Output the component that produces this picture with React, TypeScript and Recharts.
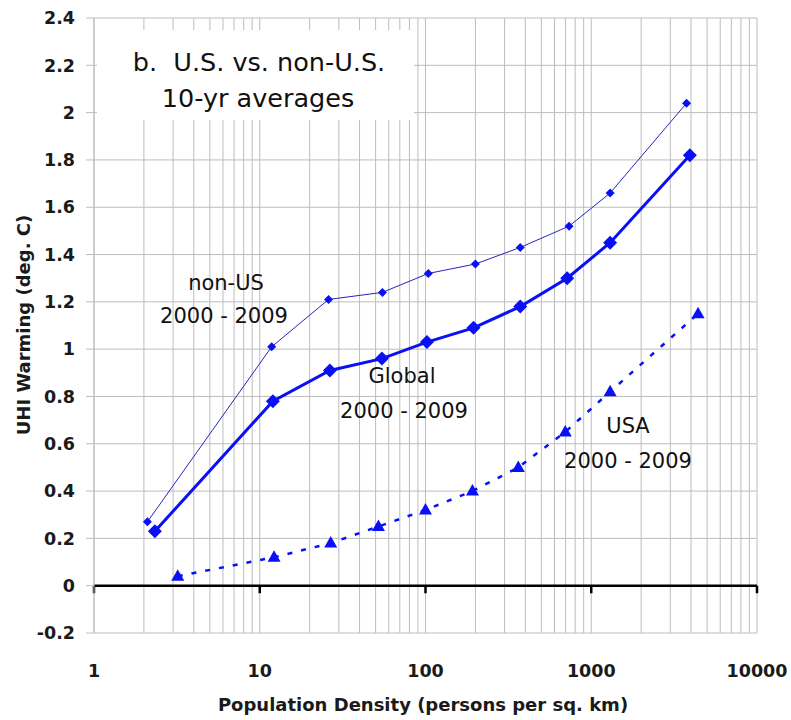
import React from 'react';
import { LineChart, Line, XAxis, YAxis, CartesianGrid, ReferenceLine } from 'recharts';

// population density (persons per sq. km), log axis
const densityTicks = [1, 10, 100, 1000, 10000];
const densityGrid = [
  1, 2, 3, 4, 5, 6, 7, 8, 9,
  10, 20, 30, 40, 50, 60, 70, 80, 90,
  100, 200, 300, 400, 500, 600, 700, 800, 900,
  1000, 2000, 3000, 4000, 5000, 6000, 7000, 8000, 9000,
  10000,
];
const warmingTicks = [-0.2, 0, 0.2, 0.4, 0.6, 0.8, 1, 1.2, 1.4, 1.6, 1.8, 2, 2.2, 2.4];

const nonUsDensity = [2.1, 11.8, 26, 55, 104, 200, 373, 735, 1300, 3760];
const nonUsWarming = [0.27, 1.01, 1.21, 1.24, 1.32, 1.36, 1.43, 1.52, 1.66, 2.04];

const globalDensity = [2.33, 12, 26.5, 54.6, 102, 195, 373, 716, 1300, 3935];
const globalWarming = [0.23, 0.78, 0.91, 0.96, 1.03, 1.09, 1.18, 1.3, 1.45, 1.82];

const usaDensity = [3.2, 12.2, 26.8, 52, 100, 192, 363, 697, 1300, 4410];
const usaWarming = [0.04, 0.12, 0.18, 0.25, 0.32, 0.4, 0.5, 0.65, 0.82, 1.15];

const toPoints = (xs: number[], ys: number[]) => xs.map((x, i) => ({ x, y: ys[i] }));

const nonUsData = toPoints(nonUsDensity, nonUsWarming);
const globalData = toPoints(globalDensity, globalWarming);
const usaData = toPoints(usaDensity, usaWarming);

const FONT = "'DejaVu Sans', sans-serif";
const BLUE = '#0a10f5';
const GRID = '#bdbdbd';

const diamondDot = (r: number) => (props: any) => {
  const { cx, cy, index } = props;
  if (cx == null || cy == null) return <g key={index} />;
  return (
    <path
      key={index}
      d={`M${cx},${cy - r}L${cx + r},${cy}L${cx},${cy + r}L${cx - r},${cy}Z`}
      fill={BLUE}
    />
  );
};

const triangleDot = (props: any) => {
  const { cx, cy, index } = props;
  if (cx == null || cy == null) return <g key={index} />;
  return (
    <path
      key={index}
      d={`M${cx},${cy - 7}L${cx + 6.5},${cy + 4.5}L${cx - 6.5},${cy + 4.5}Z`}
      fill={BLUE}
    />
  );
};

const tickStyle = { fontFamily: FONT, fontSize: 17.5, fontWeight: 700, fill: '#1a1a1a' };

export default function App() {
  return (
    <div style={{ position: 'absolute', left: 0, top: 0, width: 791, height: 720, background: '#fff' }}>
      <LineChart width={791} height={720} margin={{ top: 18, right: 34, bottom: 47, left: 34 }}>
        <CartesianGrid
          stroke={GRID}
          strokeWidth={1}
          verticalCoordinatesGenerator={(args: any) => {
            const scale = args?.xAxis?.scale;
            if (!scale) return [];
            return densityGrid.map((v) => (typeof scale === 'function' ? scale(v) : scale.map(v)));
          }}
        />
        <XAxis
          dataKey="x"
          type="number"
          scale="log"
          domain={[1, 10000]}
          ticks={densityTicks}
          interval={0}
          axisLine={false}
          tickLine={false}
          tickSize={0}
          tickMargin={32}
          height={40}
          tick={tickStyle}
          allowDataOverflow
        />
        <YAxis
          type="number"
          domain={[-0.2, 2.4]}
          ticks={warmingTicks}
          interval={0}
          width={60}
          axisLine={{ stroke: GRID }}
          tickLine={{ stroke: GRID }}
          tickSize={8}
          tickMargin={11}
          tick={tickStyle}
          allowDataOverflow
        />
        <ReferenceLine y={0} stroke="#000" strokeWidth={2.5} />
        {densityTicks.map((d) => (
          <ReferenceLine
            key={d}
            segment={[{ x: d, y: 0 }, { x: d, y: -0.032 }]}
            stroke="#000"
            strokeWidth={2.5}
          />
        ))}
        <Line
          data={nonUsData}
          dataKey="y"
          type="linear"
          stroke="#2626b8"
          strokeWidth={1}
          dot={diamondDot(4.5)}
          activeDot={false}
          isAnimationActive={false}
        />
        <Line
          data={globalData}
          dataKey="y"
          type="linear"
          stroke={BLUE}
          strokeWidth={3}
          dot={diamondDot(7)}
          activeDot={false}
          isAnimationActive={false}
        />
        <Line
          data={usaData}
          dataKey="y"
          type="linear"
          stroke={BLUE}
          strokeWidth={2.5}
          strokeDasharray="5 9"
          dot={triangleDot}
          activeDot={false}
          isAnimationActive={false}
        />
      </LineChart>
      <svg
        width={791}
        height={720}
        style={{ position: 'absolute', left: 0, top: 0, pointerEvents: 'none', whiteSpace: 'pre' }}
        fontFamily={FONT}
      >
        <rect x={97} y={30} width={317} height={90} fill="#fff" />
        <text x={259} y={71} fontSize={25.5} textAnchor="middle" fill="#111" xmlSpace="preserve">
          {'b.\u00a0 U.S. vs. non-U.S.'}
        </text>
        <text x={258} y={107} fontSize={25.5} textAnchor="middle" fill="#111">10-yr averages</text>
        <text x={226} y={290} fontSize={21} textAnchor="middle" fill="#111">non-US</text>
        <text x={224} y={323} fontSize={21} textAnchor="middle" fill="#111">2000 - 2009</text>
        <text x={402} y={383} fontSize={21} textAnchor="middle" fill="#111">Global</text>
        <text x={404} y={418} fontSize={21} textAnchor="middle" fill="#111">2000 - 2009</text>
        <text x={628} y={433} fontSize={21} textAnchor="middle" fill="#111">USA</text>
        <text x={628} y={468} fontSize={21} textAnchor="middle" fill="#111">2000 - 2009</text>
        <text x={423} y={711} fontSize={18} fontWeight={700} textAnchor="middle" fill="#1a1a1a">
          Population Density (persons per sq. km)
        </text>
        <text
          transform="translate(29.5,325) rotate(-90)"
          fontSize={18}
          fontWeight={700}
          textAnchor="middle"
          fill="#1a1a1a"
        >
          UHI Warming (deg. C)
        </text>
      </svg>
    </div>
  );
}
